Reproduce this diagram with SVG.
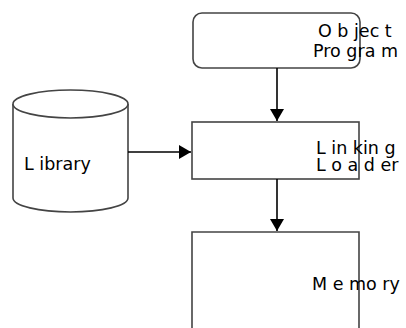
<svg xmlns="http://www.w3.org/2000/svg" width="406" height="328" viewBox="0 0 406 328">
<defs>
<marker id="ah" markerWidth="14" markerHeight="14" refX="12" refY="7" orient="auto" markerUnits="userSpaceOnUse">
<path d="M0,0 L12,7 L0,14 Z" fill="#000"/>
</marker>
<style>
.box{fill:#fff;stroke:#444;stroke-width:1.6}
.lbl{font-family:"DejaVu Sans",Verdana,sans-serif;font-size:17.5px;fill:#000}
.con{stroke:#000;stroke-width:1.6;fill:none}
</style>
</defs>
<rect width="406" height="328" fill="#fff"/>
<g id="library">
<path class="box" d="M13,104 L13,198 A57.5,14 0 0 0 128,198 L128,104"/>
<ellipse class="box" cx="70.5" cy="104" rx="57.5" ry="14"/>
<text class="lbl" x="24" y="170">L ibrary</text>
</g>
<g id="object-program">
<rect class="box" x="193" y="13" width="167" height="55" rx="9"/>
<text class="lbl" x="318" y="37">O b jec t</text>
<text class="lbl" x="313" y="57">Pro gra m</text>
</g>
<g id="linking-loader">
<rect class="box" x="192" y="122" width="167" height="57"/>
<text class="lbl" x="316" y="154">L in kin g</text>
<text class="lbl" x="316" y="171">L o a d er</text>
</g>
<g id="memory">
<path class="box" d="M192,330 L192,232 L359,232 L359,330"/>
<text class="lbl" x="312" y="290">M e mo ry</text>
</g>
<g id="connectors">
<line class="con" x1="277" y1="68" x2="277" y2="121" marker-end="url(#ah)"/>
<line class="con" x1="128" y1="152" x2="191" y2="152" marker-end="url(#ah)"/>
<line class="con" x1="277" y1="179" x2="277" y2="231" marker-end="url(#ah)"/>
</g>
</svg>
